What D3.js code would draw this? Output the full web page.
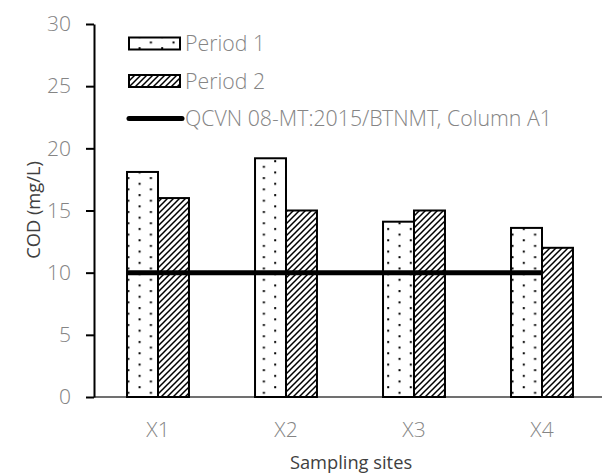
<!DOCTYPE html>
<html><head><meta charset="utf-8">
<script src="https://cdnjs.cloudflare.com/ajax/libs/d3/7.8.5/d3.min.js"></script>
<style>body{margin:0;background:#fff}svg{display:block}</style>
</head><body><svg id="c" width="602" height="476"></svg>
<script>
const categories = ["X1","X2","X3","X4"];
const period1 = [18.1, 19.2, 14.1, 13.6];
const period2 = [16.0, 15.0, 15.0, 12.0];
const standard = 10;
const yTicks = [0,5,10,15,20,25,30];
const seriesNames = ["Period 1","Period 2","QCVN 08-MT:2015/BTNMT, Column A1"];

const svg = d3.select("#c");
const m = {left:94, top:24, bottom:397, right:606};
const x = d3.scaleBand().domain(categories).range([m.left, m.right]).paddingInner(0.516).paddingOuter(0.258);
const y = d3.scaleLinear().domain([0,30]).range([m.bottom, m.top]);
const bw = x.bandwidth()/2;
const lightFont = "'Open Sans Light', 'Open Sans'";

const defs = svg.append("defs");
const pd = defs.append("pattern").attr("id","dots").attr("patternUnits","userSpaceOnUse")
  .attr("width",22.6).attr("height",11.3);
pd.append("rect").attr("width",22.6).attr("height",11.3).attr("fill","#fff");
pd.append("rect").attr("x",3).attr("y",2).attr("width",2).attr("height",2).attr("fill","#000");
pd.append("rect").attr("x",14.3).attr("y",7.6).attr("width",2).attr("height",2).attr("fill","#000");
const ph = defs.append("pattern").attr("id","hatch").attr("patternUnits","userSpaceOnUse")
  .attr("width",6).attr("height",6);
ph.append("rect").attr("width",6).attr("height",6).attr("fill","#fff");
ph.append("path").attr("d","M-1,7 L7,-1 M-1,1 L1,-1 M5,7 L7,5").attr("stroke","#000")
  .attr("stroke-width",1.5);

const fills = ["url(#dots)","url(#hatch)"];
const series = [period1, period2];

svg.append("line").attr("x1",m.left).attr("x2",602).attr("y1",y(0)).attr("y2",y(0))
  .attr("stroke","#404040").attr("stroke-width",1.5);

series.forEach((vals,si)=>{
  svg.append("g").selectAll("rect").data(categories).join("rect")
    .attr("x",(d)=>x(d)+si*bw).attr("width",bw)
    .attr("y",(d,i)=>y(vals[i])).attr("height",(d,i)=>y(0)-y(vals[i]))
    .attr("fill",fills[si]).attr("stroke","#000").attr("stroke-width",2);
});

svg.append("line")
  .attr("x1",x(categories[0])).attr("x2",x(categories[categories.length-1])+bw)
  .attr("y1",y(standard)).attr("y2",y(standard))
  .attr("stroke","#000").attr("stroke-width",5);

const ya = svg.append("g").attr("transform",`translate(${m.left},0)`)
  .call(d3.axisLeft(y).tickValues(yTicks).tickSize(8).tickPadding(15).tickSizeOuter(0));
ya.select(".domain").attr("stroke","#000").attr("stroke-width",2);
ya.selectAll(".tick line").attr("stroke","#000").attr("stroke-width",2);
ya.selectAll(".tick text").attr("font-family",lightFont).attr("font-weight",300)
  .attr("font-size",21).attr("fill","#858585");

const xa = svg.append("g").attr("transform",`translate(0,${y(0)})`)
  .call(d3.axisBottom(x).tickSize(0).tickPadding(25));
xa.select(".domain").remove();
xa.selectAll(".tick text").attr("font-family",lightFont).attr("font-weight",300)
  .attr("font-size",21).attr("fill","#858585");

svg.append("text").attr("x",351).attr("y",469).attr("text-anchor","middle")
  .attr("font-family","Open Sans").attr("font-size",18.3).attr("fill","#404040").text("Sampling sites");
svg.append("text").attr("transform","translate(40,210) rotate(-90)").attr("text-anchor","middle")
  .attr("font-family","Open Sans").attr("font-size",18.3).attr("fill","#404040").text("COD (mg/L)");

const lg = svg.append("g");
[0,1].forEach(i=>{
  lg.append("rect").attr("x",129).attr("y",37.5+i*37.5).attr("width",51).attr("height",12)
    .attr("fill",fills[i]).attr("stroke","#000").attr("stroke-width",2);
});
lg.append("line").attr("x1",129).attr("x2",182).attr("y1",118.5).attr("y2",118.5)
  .attr("stroke","#000").attr("stroke-width",5).attr("stroke-linecap","round");
seriesNames.forEach((n,i)=>{
  lg.append("text").attr("x",185).attr("y",44+i*37.3).attr("dy","0.35em")
    .attr("font-family",lightFont).attr("font-weight",300).attr("font-size",21.3)
    .attr("fill","#858585").text(n);
});
</script></body></html>
